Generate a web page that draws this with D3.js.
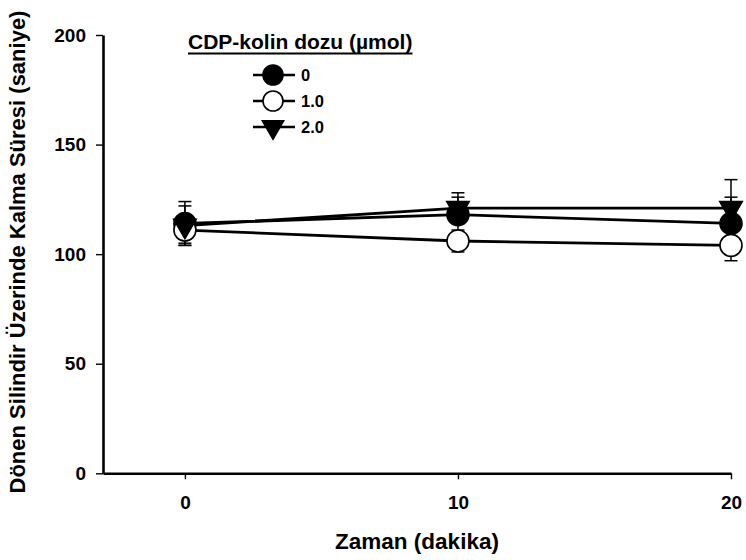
<!DOCTYPE html>
<html>
<head>
<meta charset="utf-8">
<script src="https://cdn.jsdelivr.net/npm/d3@7"></script>
<style>
  body { margin: 0; background: #fff; }
  svg { display: block; }
  text { font-family: "Liberation Sans", Arial, Helvetica, sans-serif; font-weight: bold; fill: #000; }
</style>
</head>
<body>
<svg id="chart" width="746" height="560"></svg>
<script>
// Measurement times (minutes) and CDP-choline doses
const times = [0, 10, 20];
const doses = ["0", "1.0", "2.0"];

// Mean time on rotarod (s) and error for each dose
const meanDose0 = [114, 118, 114];
const errDose0 = [10, 8, 12];
const meanDose1 = [111, 106, 104];
const errDose1 = [6, 5, 7];
const meanDose2 = [113, 121, 121];
const errDose2 = [9, 7, 13];

const xTicks = [0, 10, 20];
const yTicks = [0, 50, 100, 150, 200];

const xTitle = "Zaman (dakika)";
const yTitle = "Dönen Silindir Üzerinde Kalma Süresi (saniye)";
const legendTitle = "CDP-kolin dozu (µmol)";

const series = [
  { name: doses[0], mean: meanDose0, err: errDose0, shape: "circle", fill: "#000" },
  { name: doses[1], mean: meanDose1, err: errDose1, shape: "circle", fill: "#fff" },
  { name: doses[2], mean: meanDose2, err: errDose2, shape: "triangle", fill: "#000" }
];

const svg = d3.select("#chart");

const x = d3.scaleLinear().domain([-3, 20]).range([103, 731]);
const y = d3.scaleLinear().domain([0, 200]).range([473.3, 35]);

// Axes
const yAxis = svg.append("g")
  .attr("transform", `translate(${x(-3)},0)`)
  .call(d3.axisLeft(y).tickValues(yTicks).tickSize(7).tickSizeOuter(0).tickPadding(10));
const xAxis = svg.append("g")
  .attr("transform", `translate(0,${y(0)})`)
  .call(d3.axisBottom(x).tickValues(xTicks).tickSize(6).tickSizeOuter(0).tickPadding(16));

[xAxis, yAxis].forEach(g => {
  g.select(".domain").attr("stroke", "#000").attr("stroke-width", 2.6);
  g.selectAll(".tick line").attr("stroke", "#000").attr("stroke-width", 1.4);
  g.selectAll(".tick text").style("font-size", "19px").attr("fill", "#000");
});

// Axis titles
svg.append("text")
  .attr("x", 417).attr("y", 549)
  .attr("text-anchor", "middle")
  .style("font-size", "22.5px")
  .text(xTitle);

svg.append("text")
  .attr("transform", "translate(25,252) rotate(-90)")
  .attr("text-anchor", "middle")
  .style("font-size", "22px")
  .text(yTitle);

// Marker drawing
const R = 11;
const triH = 20;
function triPath(h) {
  const s = h * 2 / Math.sqrt(3);
  return `M${-s / 2},${-h / 3}L${s / 2},${-h / 3}L0,${2 * h / 3}Z`;
}
function drawMarker(g, shape, fill, r, h) {
  if (shape === "circle") {
    g.append("circle").attr("r", r).attr("fill", fill)
      .attr("stroke", "#000").attr("stroke-width", 1.6);
  } else {
    g.append("path").attr("d", triPath(h)).attr("fill", fill)
      .attr("stroke", "#000").attr("stroke-width", 1.2);
  }
}

// Error bars
const capW = 6.5;
const errG = svg.append("g").attr("stroke", "#000").attr("stroke-width", 1.5);
series.forEach(s => {
  times.forEach((t, i) => {
    const cx = x(t);
    const hi = y(s.mean[i] + s.err[i]);
    const lo = y(s.mean[i] - s.err[i]);
    errG.append("line").attr("x1", cx).attr("x2", cx).attr("y1", hi).attr("y2", lo);
    errG.append("line").attr("x1", cx - capW).attr("x2", cx + capW).attr("y1", hi).attr("y2", hi);
    errG.append("line").attr("x1", cx - capW).attr("x2", cx + capW).attr("y1", lo).attr("y2", lo);
  });
});

// Lines
const line = d3.line().x(d => x(d[0])).y(d => y(d[1]));
series.forEach(s => {
  svg.append("path")
    .datum(times.map((t, i) => [t, s.mean[i]]))
    .attr("d", line)
    .attr("fill", "none")
    .attr("stroke", "#000")
    .attr("stroke-width", 2.8);
});

// Markers
series.forEach(s => {
  times.forEach((t, i) => {
    const g = svg.append("g").attr("transform", `translate(${x(t)},${y(s.mean[i])})`);
    drawMarker(g, s.shape, s.fill, R, triH);
  });
});

// Legend
const lgTitle = svg.append("text")
  .attr("x", 188).attr("y", 49)
  .style("font-size", "21px")
  .text(legendTitle);
const tw = lgTitle.node().getComputedTextLength();
svg.append("line")
  .attr("x1", 188).attr("x2", 188 + tw)
  .attr("y1", 53.5).attr("y2", 53.5)
  .attr("stroke", "#000").attr("stroke-width", 2);

const legendRows = [75, 101, 127];
series.forEach((s, i) => {
  const cy = legendRows[i];
  svg.append("line")
    .attr("x1", 253).attr("x2", 295)
    .attr("y1", cy).attr("y2", cy)
    .attr("stroke", "#000").attr("stroke-width", 2.4);
  const g = svg.append("g").attr("transform", `translate(273,${cy})`);
  drawMarker(g, s.shape, s.fill, 10, 19);
  svg.append("text")
    .attr("x", 301).attr("y", cy)
    .attr("dy", "0.36em")
    .style("font-size", "16.5px")
    .text(s.name);
});
</script>
</body>
</html>
